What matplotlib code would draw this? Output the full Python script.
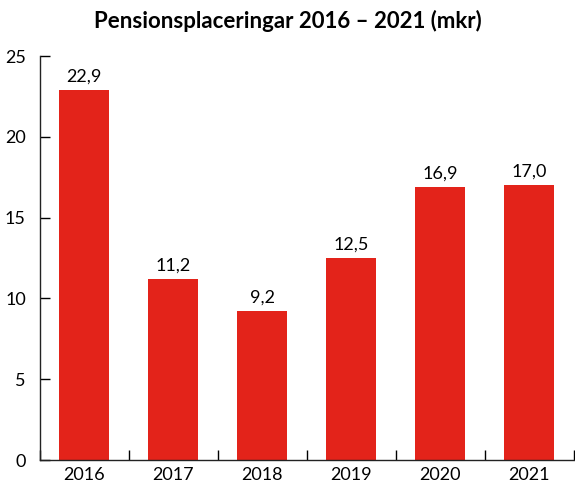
import matplotlib
matplotlib.use("Agg")
import matplotlib.pyplot as plt
from matplotlib.ticker import FixedLocator

years = ["2016", "2017", "2018", "2019", "2020", "2021"]
values = [22.9, 11.2, 9.2, 12.5, 16.9, 17.0]
labels = ["22,9", "11,2", "9,2", "12,5", "16,9", "17,0"]
y_ticks = [0, 5, 10, 15, 20, 25]

bar_color = "#E3231A"

plt.rcParams["font.family"] = ["Lato", "DejaVu Sans"]

fig = plt.figure(figsize=(5.75, 4.83), dpi=100)
ax = fig.add_axes([0.069, 0.0476, 0.929, 0.8364])

x = list(range(len(years)))
bars = ax.bar(x, values, width=0.56, color=bar_color)

for b, lab in zip(bars, labels):
    ax.text(b.get_x() + b.get_width() / 2, b.get_height() + 0.35, lab,
            ha="center", va="bottom", fontsize=13)

ax.set_xlim(-0.5, 5.5)
ax.set_ylim(0, 25)
ax.set_yticks(y_ticks)
ax.set_xticks(x)
ax.set_xticklabels(years)
ax.xaxis.set_minor_locator(FixedLocator([i + 0.5 for i in range(-1, 6)]))

ax.spines["top"].set_visible(False)
ax.spines["right"].set_visible(False)
for s in ("left", "bottom"):
    ax.spines[s].set_linewidth(1.0)
    ax.spines[s].set_color("#222222")

ax.tick_params(axis="y", direction="in", length=7, width=1.0, labelsize=13, pad=10)
ax.tick_params(axis="x", which="major", length=0, labelsize=13, pad=5)
ax.tick_params(axis="x", which="minor", direction="in", length=7, width=1.0)

fig.suptitle("Pensionsplaceringar 2016 – 2021 (mkr)", fontsize=16, fontweight="bold", y=0.98)

fig.savefig("out.png", dpi=100)
